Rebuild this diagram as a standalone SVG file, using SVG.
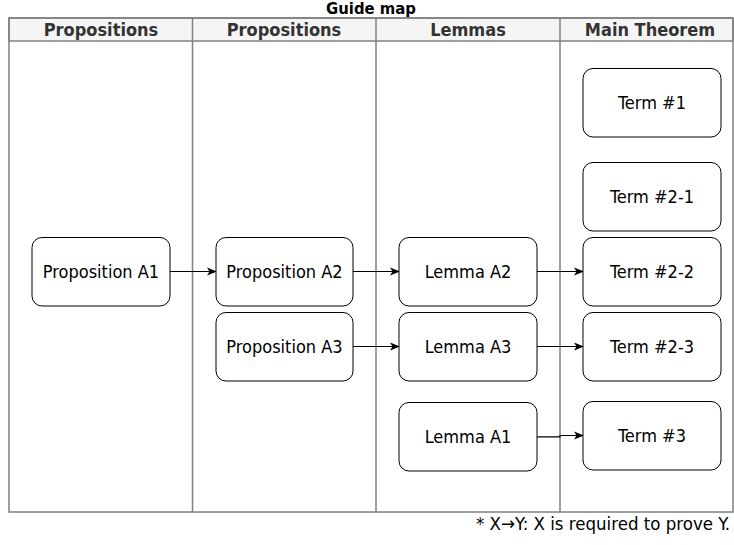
<svg xmlns="http://www.w3.org/2000/svg" width="734" height="545" viewBox="0 0 734 545">
<style>
.lane{fill:none;stroke:#808080;stroke-width:1.5}
.hdr{fill:#f5f5f5;stroke:#808080;stroke-width:1.5}
.ht{font-family:"DejaVu Sans Condensed","DejaVu Sans",sans-serif;font-stretch:condensed;font-size:18px;font-weight:bold;fill:#333;text-anchor:middle}
.node rect{fill:#fff;stroke:#000;stroke-width:1}
.node text{font-family:"DejaVu Sans Condensed","DejaVu Sans",sans-serif;font-stretch:condensed;font-size:18px;fill:#000;text-anchor:middle}
.edge{fill:none;stroke:#000;stroke-width:1.2}
</style>
<defs>
<marker id="arr" viewBox="0 0 10 10" refX="9" refY="5" markerWidth="10" markerHeight="10" markerUnits="userSpaceOnUse" orient="auto">
<path d="M0,1 L10,5 L0,9 L2.5,5 Z" fill="#000"/>
</marker>
</defs>
<rect width="734" height="545" fill="#fff"/>
<g id="pool">
<text x="371" y="14" class="ht" style="font-size:16.5px;fill:#000">Guide map</text>
<rect class="hdr" x="9" y="18" width="724" height="23"/>
<rect class="lane" x="9" y="18" width="724" height="494"/>
<line class="lane" x1="192.5" y1="18" x2="192.5" y2="512"/>
<line class="lane" x1="376" y1="18" x2="376" y2="512"/>
<line class="lane" x1="560" y1="18" x2="560" y2="512"/>
<text x="101" y="36" class="ht">Propositions</text>
<text x="284" y="36" class="ht">Propositions</text>
<text x="468" y="36" class="ht">Lemmas</text>
<text x="650" y="36" class="ht">Main Theorem</text>
</g>
<g id="edges">
<path class="edge" d="M170,271.5 H216" marker-end="url(#arr)"/>
<path class="edge" d="M353,271.5 H399" marker-end="url(#arr)"/>
<path class="edge" d="M353,346.5 H399" marker-end="url(#arr)"/>
<path class="edge" d="M537,271.5 H583" marker-end="url(#arr)"/>
<path class="edge" d="M537,346.5 H583" marker-end="url(#arr)"/>
<path class="edge" d="M537,436.8 H560 V435.5 H583" marker-end="url(#arr)"/>
</g>
<g id="propA1" class="node"><rect x="32" y="237.5" width="138" height="68.5" rx="10"/><text x="101" y="278">Proposition A1</text></g>
<g id="propA2" class="node"><rect x="216" y="237.5" width="137" height="68.5" rx="10"/><text x="284.5" y="278">Proposition A2</text></g>
<g id="propA3" class="node"><rect x="216" y="312.5" width="137" height="68.5" rx="10"/><text x="284.5" y="353">Proposition A3</text></g>
<g id="lemA2" class="node"><rect x="399" y="237.5" width="138" height="68.5" rx="10"/><text x="468" y="278">Lemma A2</text></g>
<g id="lemA3" class="node"><rect x="399" y="312.5" width="138" height="68.5" rx="10"/><text x="468" y="353">Lemma A3</text></g>
<g id="lemA1" class="node"><rect x="399" y="402.5" width="138" height="68.5" rx="10"/><text x="468" y="443">Lemma A1</text></g>
<g id="term1" class="node"><rect x="583" y="68.5" width="138" height="68.5" rx="10"/><text x="652" y="109">Term #1</text></g>
<g id="term21" class="node"><rect x="583" y="162.5" width="138" height="68.5" rx="10"/><text x="652" y="203">Term #2-1</text></g>
<g id="term22" class="node"><rect x="583" y="237.5" width="138" height="68.5" rx="10"/><text x="652" y="278">Term #2-2</text></g>
<g id="term23" class="node"><rect x="583" y="312.5" width="138" height="68.5" rx="10"/><text x="652" y="353">Term #2-3</text></g>
<g id="term3" class="node"><rect x="583" y="401.5" width="138" height="68.5" rx="10"/><text x="652" y="442">Term #3</text></g>
<text x="730" y="530" style="font-family:'DejaVu Sans Condensed','DejaVu Sans',sans-serif;font-stretch:condensed;font-size:18.5px;fill:#000;text-anchor:end">* X→Y: X is required to prove Y.</text>
</svg>
